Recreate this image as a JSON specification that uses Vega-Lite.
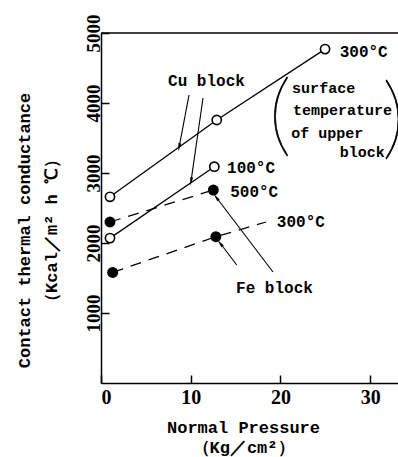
{
  "$schema": "https://vega.github.io/schema/vega-lite/v6.json",
  "width": 297,
  "height": 350,
  "autosize": {"type": "none"},
  "padding": {"left": 101, "top": 33, "right": 0, "bottom": 74},
  "background": "white",
  "config": {
    "view": {"stroke": null},
    "axis": {
      "grid": false,
      "domainColor": "black",
      "domainWidth": 1.5,
      "tickColor": "black",
      "tickWidth": 1.5,
      "tickSize": -8,
      "labelColor": "black",
      "labelFont": "Liberation Serif",
      "labelFontWeight": "bold",
      "titleColor": "black",
      "titleFont": "Liberation Mono",
      "titleFontWeight": "bold",
      "titleFontSize": 17
    }
  },
  "datasets": {
    "series": [
      {"s": "Cu300", "x": 1, "y": 2660, "m": "open"},
      {"s": "Cu300", "x": 12.9, "y": 3757, "m": "open"},
      {"s": "Cu300", "x": 24.97, "y": 4770, "m": "open"},
      {"s": "Cu100", "x": 1, "y": 2070, "m": "open"},
      {"s": "Cu100", "x": 12.63, "y": 3090, "m": "open"},
      {"s": "Fe500", "x": 1, "y": 2300, "m": "filled"},
      {"s": "Fe500", "x": 12.52, "y": 2757, "m": "filled"},
      {"s": "Fe300", "x": 1.3, "y": 1580, "m": "filled"},
      {"s": "Fe300", "x": 12.8, "y": 2090, "m": "filled"},
      {"s": "Fe300", "x": 18.4, "y": 2300, "m": "none"}
    ],
    "frame": [
      {"x": 0, "y": 5000},
      {"x": 33.1, "y": 5000}
    ],
    "arrows": [
      {"id": "c1", "x": 9.81, "y": 4114, "x2": 8.7, "y2": 3366},
      {"id": "c2", "x": 11.37, "y": 4071, "x2": 10.03, "y2": 2880},
      {"id": "f1", "x": 19.17, "y": 1586, "x2": 12.82, "y2": 2657},
      {"id": "f2", "x": 15.13, "y": 1686, "x2": 13.27, "y2": 2000}
    ],
    "labels": [
      {"t": "300°C", "x": 26.6, "y": 4729},
      {"t": "Cu block", "x": 7.47, "y": 4314},
      {"t": "100°C", "x": 14.05, "y": 3071},
      {"t": "500°C", "x": 14.4, "y": 2729},
      {"t": "300°C", "x": 19.6, "y": 2300},
      {"t": "Fe block", "x": 15.05, "y": 1357}
    ],
    "note": [
      {"t": "surface", "x": 21.3, "y": 4214},
      {"t": "temperature", "x": 21.4, "y": 3900},
      {"t": "of upper", "x": 21.2, "y": 3571},
      {"t": "block", "x": 26.6, "y": 3300}
    ],
    "parens": [
      {"t": "(", "x": 19.96, "y": 3780},
      {"t": ")", "x": 32.6, "y": 3740}
    ]
  },
  "encoding": {
    "x": {
      "field": "x",
      "type": "quantitative",
      "scale": {"domain": [0, 33.1], "nice": false, "zero": false},
      "axis": {
        "values": [0, 10, 20, 30],
        "labelFontSize": 20,
        "labelPadding": 12,
        "title": ["Normal Pressure", "（Kg／cm²）"],
        "titleLineHeight": 20,
        "titleX": 142,
        "titleY": 44,
        "titleAlign": "center",
        "titleBaseline": "middle"
      }
    },
    "y": {
      "field": "y",
      "type": "quantitative",
      "scale": {"domain": [0, 5000], "nice": false},
      "axis": {
        "values": [1000, 2000, 3000, 4000, 5000],
        "format": "d",
        "labelAngle": -90,
        "labelFontSize": 19,
        "labelPadding": 6,
        "labelAlign": "center",
        "labelBaseline": "bottom",
        "title": ["Contact thermal conductance", "（Kcal／m² h ℃）"],
        "titleAngle": -90,
        "titleLineHeight": 27,
        "titleX": -77,
        "titleY": 197,
        "titleAlign": "center",
        "titleBaseline": "middle"
      }
    }
  },
  "layer": [
    {
      "data": {"name": "frame"},
      "mark": {"type": "line", "color": "black", "strokeWidth": 1.5}
    },
    {
      "data": {"name": "series"},
      "transform": [{"filter": "indexof(datum.s, 'Cu') == 0"}],
      "mark": {"type": "line", "color": "black", "strokeWidth": 1.3},
      "encoding": {"detail": {"field": "s"}}
    },
    {
      "data": {"name": "series"},
      "transform": [{"filter": "indexof(datum.s, 'Fe') == 0"}],
      "mark": {"type": "line", "color": "black", "strokeWidth": 1.3, "strokeDash": [11, 8]},
      "encoding": {"detail": {"field": "s"}}
    },
    {
      "data": {"name": "arrows"},
      "mark": {"type": "rule", "color": "black", "strokeWidth": 1.1},
      "encoding": {
        "x2": {"field": "x2"},
        "y2": {"field": "y2"}
      }
    },
    {
      "data": {"name": "arrows"},
      "transform": [{"filter": "indexof(datum.id, 'c') == 0"}],
      "mark": {"type": "point", "shape": "M0,-1L0.35,1L-0.35,1Z", "filled": true, "color": "black", "opacity": 1, "size": 70, "angle": 190},
      "encoding": {
        "x": {"field": "x2", "type": "quantitative"},
        "y": {"field": "y2", "type": "quantitative"}
      }
    },
    {
      "data": {"name": "arrows"},
      "transform": [{"filter": "indexof(datum.id, 'f') == 0"}],
      "mark": {"type": "point", "shape": "M0,-1L0.35,1L-0.35,1Z", "filled": true, "color": "black", "opacity": 1, "size": 70, "angle": 323},
      "encoding": {
        "x": {"field": "x2", "type": "quantitative"},
        "y": {"field": "y2", "type": "quantitative"}
      }
    },
    {
      "data": {"name": "series"},
      "transform": [{"filter": "datum.m == 'open'"}],
      "mark": {"type": "point", "shape": "circle", "filled": true, "fill": "white", "stroke": "black", "strokeWidth": 1.6, "opacity": 1, "size": 85}
    },
    {
      "data": {"name": "series"},
      "transform": [{"filter": "datum.m == 'filled'"}],
      "mark": {"type": "point", "shape": "circle", "filled": true, "color": "black", "opacity": 1, "size": 120}
    },
    {
      "data": {"name": "labels"},
      "mark": {"type": "text", "align": "left", "baseline": "middle", "font": "Liberation Mono", "fontSize": 16, "fontWeight": "bold", "color": "black"},
      "encoding": {"text": {"field": "t"}}
    },
    {
      "data": {"name": "note"},
      "mark": {"type": "text", "align": "left", "baseline": "middle", "font": "Liberation Mono", "fontSize": 15, "fontWeight": "bold", "color": "black"},
      "encoding": {"text": {"field": "t"}}
    },
    {
      "data": {"name": "parens"},
      "mark": {"type": "text", "align": "center", "baseline": "middle", "font": "Lato", "fontSize": 90, "fontWeight": 200, "color": "black", "stroke": "black", "strokeWidth": 0.8},
      "encoding": {"text": {"field": "t"}}
    }
  ]
}
